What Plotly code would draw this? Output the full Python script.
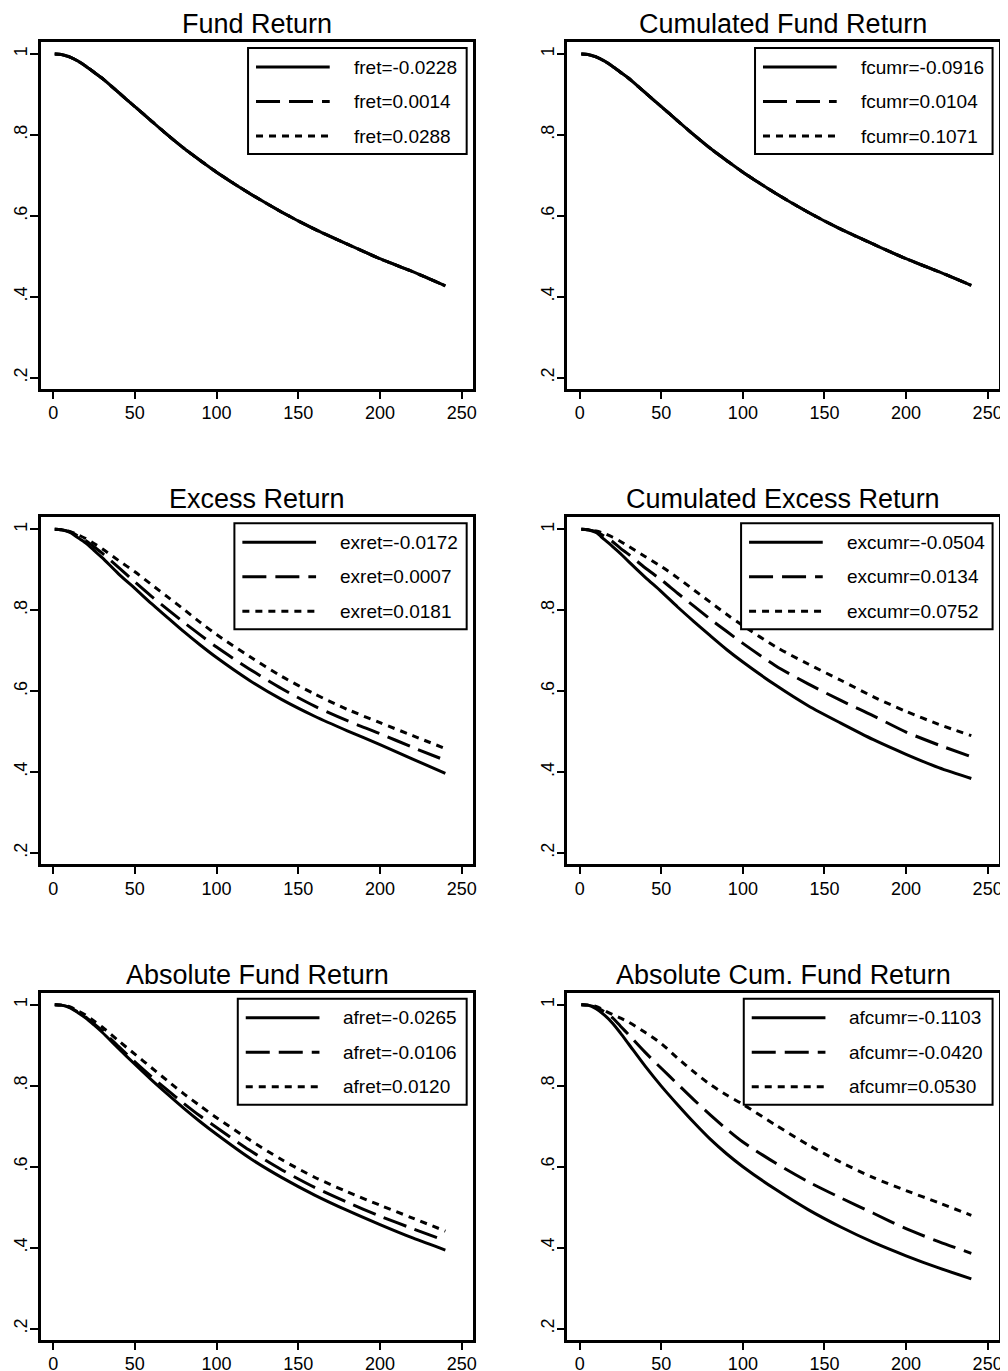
import plotly.graph_objects as go

# ---------------- data ----------------
months = [1, 5, 10, 15, 20, 25, 30, 40, 50, 60, 70, 80, 90, 100, 120, 140, 160, 180, 200, 220, 240]

titles = ["Fund Return", "Cumulated Fund Return", "Excess Return",
          "Cumulated Excess Return", "Absolute Fund Return", "Absolute Cum. Fund Return"]

labels_fret = ["fret=-0.0228", "fret=0.0014", "fret=0.0288"]
labels_fcumr = ["fcumr=-0.0916", "fcumr=0.0104", "fcumr=0.1071"]
labels_exret = ["exret=-0.0172", "exret=0.0007", "exret=0.0181"]
labels_excumr = ["excumr=-0.0504", "excumr=0.0134", "excumr=0.0752"]
labels_afret = ["afret=-0.0265", "afret=-0.0106", "afret=0.0120"]
labels_afcumr = ["afcumr=-0.1103", "afcumr=-0.0420", "afcumr=0.0530"]

fret_low = [1.000, 0.999, 0.993, 0.983, 0.970, 0.955, 0.940, 0.905, 0.870, 0.835, 0.800, 0.767, 0.737, 0.708, 0.656, 0.609, 0.567, 0.530, 0.494, 0.462, 0.427]
fret_mid = [1.000, 0.999, 0.993, 0.983, 0.970, 0.955, 0.940, 0.905, 0.870, 0.835, 0.800, 0.767, 0.737, 0.708, 0.656, 0.609, 0.567, 0.530, 0.494, 0.462, 0.427]
fret_high = [1.000, 0.999, 0.993, 0.983, 0.970, 0.955, 0.940, 0.905, 0.870, 0.835, 0.800, 0.767, 0.737, 0.708, 0.656, 0.609, 0.567, 0.530, 0.494, 0.462, 0.427]

fcumr_low = [1.000, 0.999, 0.993, 0.983, 0.970, 0.955, 0.940, 0.905, 0.870, 0.835, 0.800, 0.767, 0.737, 0.708, 0.656, 0.609, 0.567, 0.530, 0.494, 0.462, 0.428]
fcumr_mid = [1.000, 0.999, 0.993, 0.983, 0.970, 0.955, 0.940, 0.905, 0.870, 0.835, 0.800, 0.767, 0.737, 0.708, 0.656, 0.609, 0.567, 0.530, 0.494, 0.462, 0.428]
fcumr_high = [1.000, 0.999, 0.993, 0.983, 0.970, 0.955, 0.940, 0.905, 0.870, 0.835, 0.800, 0.767, 0.737, 0.708, 0.656, 0.609, 0.567, 0.530, 0.494, 0.462, 0.428]

exret_low = [1.000, 0.999, 0.993, 0.980, 0.966, 0.948, 0.930, 0.890, 0.854, 0.817, 0.782, 0.747, 0.714, 0.683, 0.627, 0.579, 0.538, 0.502, 0.468, 0.432, 0.397]
exret_mid = [1.000, 0.999, 0.994, 0.984, 0.972, 0.957, 0.941, 0.906, 0.870, 0.835, 0.802, 0.770, 0.739, 0.709, 0.655, 0.606, 0.563, 0.527, 0.495, 0.461, 0.429]
exret_high = [1.000, 0.999, 0.995, 0.987, 0.977, 0.965, 0.952, 0.923, 0.895, 0.864, 0.833, 0.802, 0.770, 0.740, 0.686, 0.636, 0.593, 0.555, 0.522, 0.490, 0.458]

excumr_low = [1.000, 0.999, 0.992, 0.975, 0.958, 0.940, 0.920, 0.882, 0.846, 0.808, 0.772, 0.737, 0.703, 0.672, 0.615, 0.564, 0.521, 0.480, 0.444, 0.411, 0.384]
excumr_mid = [1.000, 0.999, 0.994, 0.983, 0.970, 0.953, 0.938, 0.905, 0.875, 0.842, 0.810, 0.778, 0.748, 0.718, 0.663, 0.618, 0.577, 0.539, 0.499, 0.467, 0.438]
excumr_high = [1.000, 0.999, 0.996, 0.990, 0.981, 0.970, 0.958, 0.933, 0.908, 0.880, 0.850, 0.820, 0.790, 0.762, 0.710, 0.667, 0.627, 0.586, 0.550, 0.518, 0.490]

afret_low = [1.000, 0.999, 0.993, 0.981, 0.967, 0.950, 0.932, 0.892, 0.853, 0.815, 0.779, 0.744, 0.711, 0.680, 0.622, 0.573, 0.530, 0.492, 0.457, 0.424, 0.394]
afret_mid = [1.000, 0.999, 0.994, 0.982, 0.969, 0.953, 0.936, 0.897, 0.859, 0.823, 0.789, 0.756, 0.725, 0.697, 0.641, 0.592, 0.549, 0.512, 0.478, 0.447, 0.417]
afret_high = [1.000, 0.999, 0.995, 0.985, 0.974, 0.960, 0.945, 0.911, 0.878, 0.845, 0.812, 0.780, 0.750, 0.721, 0.667, 0.617, 0.574, 0.538, 0.505, 0.473, 0.441]

afcumr_low = [1.000, 0.999, 0.990, 0.975, 0.955, 0.930, 0.903, 0.849, 0.799, 0.753, 0.709, 0.668, 0.632, 0.600, 0.544, 0.494, 0.451, 0.413, 0.380, 0.350, 0.323]
afcumr_mid = [1.000, 0.999, 0.994, 0.983, 0.968, 0.947, 0.926, 0.883, 0.843, 0.804, 0.765, 0.728, 0.693, 0.661, 0.609, 0.563, 0.523, 0.485, 0.447, 0.415, 0.386]
afcumr_high = [1.000, 0.999, 0.996, 0.986, 0.976, 0.967, 0.957, 0.932, 0.904, 0.868, 0.834, 0.803, 0.777, 0.754, 0.703, 0.654, 0.611, 0.573, 0.541, 0.511, 0.480]

x_ticks = [0, 50, 100, 150, 200, 250]
y_ticks = [0.2, 0.4, 0.6, 0.8, 1.0]
y_tick_text = [".2", ".4", ".6", ".8", "1"]

panels = [
    (titles[0], labels_fret, [fret_low, fret_mid, fret_high]),
    (titles[1], labels_fcumr, [fcumr_low, fcumr_mid, fcumr_high]),
    (titles[2], labels_exret, [exret_low, exret_mid, exret_high]),
    (titles[3], labels_excumr, [excumr_low, excumr_mid, excumr_high]),
    (titles[4], labels_afret, [afret_low, afret_mid, afret_high]),
    (titles[5], labels_afcumr, [afcumr_low, afcumr_mid, afcumr_high]),
]

# ---------------- layout geometry ----------------
W, H = 1008, 1371
OFF = 8  # page body margin compensation
col_px = [(41, 475), (569.7, 1003)]
row_px = [(42, 389), (517.3, 864.3), (992.7, 1340)]
legend_left_px = [208, 188.3, 194.3, 174.3, 197.7, 177]  # box left, px from plot left

dashes = ["solid", "24px,9px", "7px,6px"]
FONT = "Liberation Sans, Arial, Helvetica, sans-serif"

fig = go.Figure()
layout = dict(
    width=W, height=H,
    margin=dict(l=0, r=0, t=0, b=0),
    paper_bgcolor="white", plot_bgcolor="white",
    showlegend=False,
    font=dict(family=FONT, color="black"),
)
shapes = []
annotations = []

for i, (title, labels, series) in enumerate(panels):
    r, c = divmod(i, 2)
    n = "" if i == 0 else str(i + 1)
    x0p, x1p = col_px[c]
    y0p, y1p = row_px[r]
    pw, ph = x1p - x0p, y1p - y0p
    layout["xaxis" + n] = dict(
        domain=[(x0p - OFF) / W, (x1p - OFF) / W], anchor="y" + n,
        range=[-7.5, 257], tickvals=x_ticks, ticks="outside", ticklen=7, tickwidth=2,
        tickcolor="black", showline=True, mirror=True, linewidth=2.5, linecolor="black",
        showgrid=False, zeroline=False, tickfont=dict(size=18, family=FONT, color="black"),
        ticklabelstandoff=-1, fixedrange=True,
    )
    layout["yaxis" + n] = dict(
        domain=[1 - (y1p - OFF) / H, 1 - (y0p - OFF) / H], anchor="x" + n,
        range=[0.172, 1.0297], tickvals=y_ticks, ticktext=y_tick_text, tickangle=-90,
        ticks="outside", ticklen=8, tickwidth=2, tickcolor="black",
        showline=True, mirror=True, linewidth=2.5, linecolor="black",
        showgrid=False, zeroline=False, tickfont=dict(size=18, family=FONT, color="black"),
        ticklabelstandoff=-4, fixedrange=True,
    )
    for k in range(3):
        fig.add_trace(go.Scatter(
            x=months, y=series[k], mode="lines", name=labels[k],
            xaxis="x" + n, yaxis="y" + n,
            line=dict(color="black", width=3, dash=dashes[k], shape="spline", smoothing=0.8),
            showlegend=False, hoverinfo="skip",
        ))
    xr, yr = "x" + n + " domain", "y" + n + " domain"
    # title
    annotations.append(dict(
        text=title, xref=xr, yref=yr, x=0.5, y=1, xanchor="center", yanchor="bottom",
        yshift=1, showarrow=False, font=dict(size=27, family=FONT, color="black"),
    ))
    # legend box
    bl = legend_left_px[i]
    shapes.append(dict(
        type="rect", xref=xr, yref=yr,
        x0=bl / pw, x1=(pw - 6.5) / pw, y0=1 - 112 / ph, y1=1 - 6 / ph,
        line=dict(color="black", width=2), fillcolor="white", layer="above",
    ))
    for k in range(3):
        yy = 1 - (25 + 34.5 * k) / ph
        shapes.append(dict(
            type="line", xref=xr, yref=yr,
            x0=(bl + 8) / pw, x1=(bl + 82) / pw, y0=yy, y1=yy,
            line=dict(color="black", width=3, dash=dashes[k]), layer="above",
        ))
        annotations.append(dict(
            text=labels[k], xref=xr, yref=yr, x=(bl + 104) / pw, y=yy,
            xanchor="left", yanchor="middle", showarrow=False,
            font=dict(size=19, family=FONT, color="black"),
        ))

layout["shapes"] = shapes
layout["annotations"] = annotations
fig.update_layout(**layout)
fig.write_html("out.html")
